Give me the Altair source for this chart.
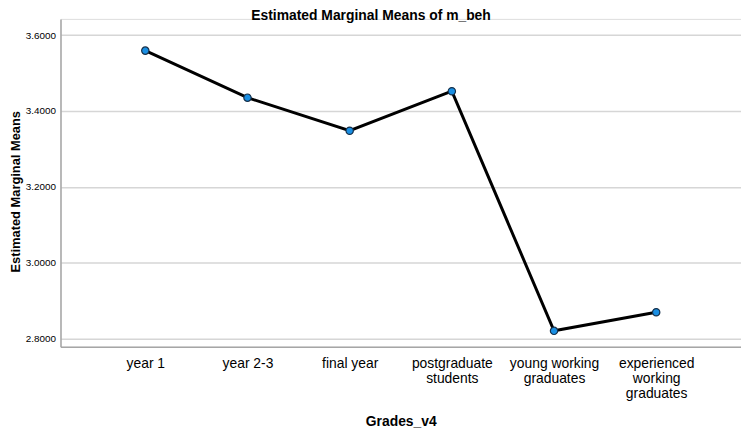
import altair as alt
import pandas as pd

categories = [
    "year 1",
    "year 2-3",
    "final year",
    "postgraduate\nstudents",
    "young working\ngraduates",
    "experienced\nworking\ngraduates",
]
means = [3.559, 3.435, 3.348, 3.452, 2.821, 2.870]
y_ticks = [2.8, 3.0, 3.2, 3.4, 3.6]

df = pd.DataFrame({"grade": categories, "mean": means})

FONT = "Liberation Sans"

x_enc = alt.X(
    "grade:N",
    sort=categories,
    scale=alt.Scale(type="point", padding=0.83),
    title="Grades_v4",
    axis=alt.Axis(
        labelAngle=0,
        labelExpr="split(datum.label, '\\n')",
        labelFont=FONT,
        labelFontSize=14,
        labelLineHeight=15,
        labelColor="#000000",
        labelPadding=10,
        ticks=False,
        grid=False,
        domainColor="#a6a6a6",
        domainWidth=1.5,
        titleFont=FONT,
        titleFontSize=14,
        titleFontWeight="bold",
        titleColor="#000000",
        titleBaseline="alphabetic",
        titleX=343.5,
        titleY=79,
        titleAnchor="middle",
        titleAlign="center",
    ),
)

y_enc = alt.Y(
    "mean:Q",
    scale=alt.Scale(domain=[2.779, 3.6425], nice=False, zero=False),
    title="Estimated Marginal Means",
    axis=alt.Axis(
        values=y_ticks,
        format=".4f",
        labelFont=FONT,
        labelFontSize=10,
        labelColor="#000000",
        labelPadding=5,
        ticks=False,
        grid=True,
        gridColor="#d6d6d6",
        gridWidth=1.5,
        domainColor="#a6a6a6",
        domainWidth=1.5,
        titleFont=FONT,
        titleFontSize=13,
        titleFontWeight="bold",
        titleColor="#000000",
        titleAngle=270,
        titleBaseline="top",
        titleAlign="center",
        titleX=-51,
        titleY=174,
    ),
)

base = alt.Chart(df).encode(x=x_enc, y=y_enc)

line = base.mark_line(color="#000000", strokeWidth=3)
points = base.mark_circle(
    fill="#1a8fe3", stroke="#16304a", strokeWidth=1.2, opacity=1, size=55
)

chart = (
    alt.layer(line, points)
    .properties(
        width=687,
        height=331,
        autosize=alt.AutoSizeParams(type="none"),
        padding={"left": 53, "top": 9, "right": 0, "bottom": 81},
        title=alt.TitleParams(
            "Estimated Marginal Means of m_beh",
            font=FONT,
            fontSize=14,
            fontWeight="bold",
            color="#000000",
            anchor="middle",
            dx=-30,
            dy=14,
            offset=-1,
            baseline="alphabetic",
        ),
    )
    .configure_view(stroke=None)
    .configure(background="white")
)

chart.save("out.html", embed_options={"renderer": "svg", "actions": False})
